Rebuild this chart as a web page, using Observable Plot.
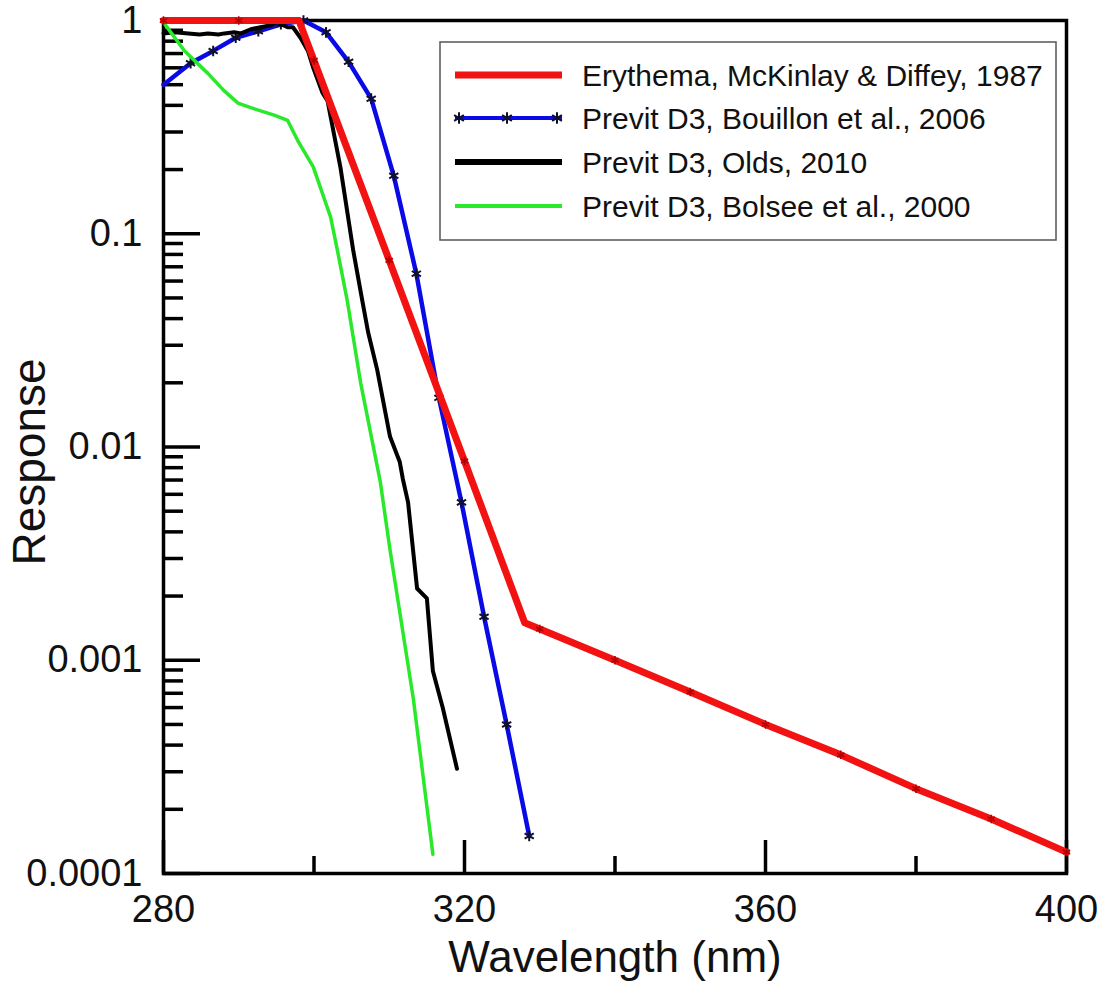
<!DOCTYPE html>
<html><head><meta charset="utf-8">
<script src="https://cdn.jsdelivr.net/npm/d3@7"></script>
<script src="https://cdn.jsdelivr.net/npm/@observablehq/plot@0.6"></script>
<style>body{margin:0;background:#fff}#chart svg{display:block}</style>
</head><body><div id="chart"></div>
<script>
// Series names
const seriesNames = [
  "Erythema, McKinlay & Diffey, 1987",
  "Previt D3, Bouillon et al., 2006",
  "Previt D3, Olds, 2010",
  "Previt D3, Bolsee et al., 2000"
];
// Erythema (red)
const erythemaWl  = [280, 290, 298, 300, 310, 320, 328, 330, 340, 350, 360, 370, 380, 390, 400];
const erythemaVal = [1, 1, 1, 0.65, 0.075, 0.0086, 0.0015, 0.0014, 0.001, 0.00071, 0.0005, 0.00036, 0.00025, 0.00018, 0.000126];
const erythemaMarkWl = [280, 290, 300, 310, 320, 330, 340, 350, 360, 370, 380, 390, 400];
// Bouillon (blue, with markers)
const bouillonWl  = [280, 283.6, 286.6, 289.6, 292.6, 295.6, 298.6, 301.6, 304.6, 307.6, 310.6, 313.6, 316.6, 319.6, 322.6, 325.6, 328.6];
const bouillonVal = [0.50, 0.63, 0.72, 0.83, 0.89, 0.96, 1.0, 0.88, 0.64, 0.43, 0.187, 0.065, 0.017, 0.0055, 0.0016, 0.0005, 0.00015];
// Olds (black)
const oldsWl  = [280, 281.5, 283.3, 284.8, 285.9, 287.3, 288.1, 289.4, 290.3, 291.6, 292.9, 294.3, 295.2, 295.6, 296.5, 297.2, 298.2, 299.2, 299.9, 301.1, 301.8, 303.5, 305.2, 306.4, 307.2, 308.4, 310.1, 311.4, 311.8, 312.5, 313.7, 315.0, 315.8, 317.1, 319.0];
const oldsVal = [0.87, 0.88, 0.87, 0.86, 0.87, 0.86, 0.87, 0.88, 0.87, 0.91, 0.93, 0.95, 0.99, 0.96, 0.93, 0.93, 0.83, 0.72, 0.60, 0.46, 0.42, 0.206, 0.084, 0.049, 0.0344, 0.023, 0.0112, 0.0085, 0.0071, 0.0055, 0.00217, 0.00195, 0.00089, 0.0006, 0.00031];
// Bolsee (green)
const bolseeWl  = [280, 282.8, 285.9, 288.0, 289.9, 291.6, 294.7, 296.5, 297.8, 299.9, 302.2, 303.1, 304.4, 306.2, 308.8, 310.1, 313.2, 315.8];
const bolseeVal = [0.98, 0.72, 0.565, 0.47, 0.41, 0.39, 0.36, 0.34, 0.275, 0.206, 0.12, 0.084, 0.049, 0.020, 0.0069, 0.0033, 0.00066, 0.000123];
// Ticks
const xTickLabels = [280, 320, 360, 400];
const xMinorTicks = [300, 340, 380];
const yTickLabels = [1, 0.1, 0.01, 0.001, 0.0001];
const yMinorMult = [2, 3, 4, 5, 6, 7, 8, 9];
const colors = ["#f21212", "#0a0ae6", "#000000", "#2ae82a"];

const toRows = (wl, v) => wl.map((w, i) => ({wl: w, v: v[i]}));
const erythema = toRows(erythemaWl, erythemaVal);
const erythemaMarks = erythema.filter(d => erythemaMarkWl.includes(d.wl));
const bouillon = toRows(bouillonWl, bouillonVal);
const olds = toRows(oldsWl, oldsVal);
const bolsee = toRows(bolseeWl, bolseeVal);
const yMinor = [];
[0.0001, 0.001, 0.01, 0.1].forEach(dec => yMinorMult.forEach(m => yMinor.push(+(dec * m).toPrecision(3))));

const W = 1103, H = 983, mL = 163, mR = 37, mT = 20, mB = 110;
const pW = W - mL - mR, pH = H - mT - mB;
const font = "'Liberation Sans', Arial, sans-serif";

const chart = Plot.plot({
  width: W, height: H,
  marginLeft: mL, marginRight: mR, marginTop: mT, marginBottom: mB,
  style: {fontFamily: font, color: "#111", background: "#fff"},
  x: {domain: [280, 400]},
  y: {type: "log", domain: [0.0001, 1]},
  marks: [
    Plot.axisX(xTickLabels, {tickSize: 0, tickPadding: 22, fontSize: 38, label: null}),
    Plot.axisY(yTickLabels, {tickSize: 0, tickPadding: 21, fontSize: 38, label: null, tickFormat: d => String(d)}),
    Plot.ruleY(yTickLabels, {insetRight: pW - 37, stroke: "#000", strokeWidth: 3.5}),
    Plot.ruleY(yMinor, {insetRight: pW - 20, stroke: "#000", strokeWidth: 3.5}),
    Plot.ruleX(xTickLabels, {insetTop: pH - 33, stroke: "#000", strokeWidth: 3.5}),
    Plot.ruleX(xMinorTicks, {insetTop: pH - 17, stroke: "#000", strokeWidth: 3.5}),
    Plot.frame({stroke: "#000", strokeWidth: 3.5}),
    Plot.line(bouillon, {x: "wl", y: "v", stroke: colors[1], strokeWidth: 4.5}),
    Plot.dot(bouillon.slice(1), {x: "wl", y: "v", symbol: "asterisk", r: 5, stroke: "#10102a", strokeWidth: 2}),
    Plot.line(olds, {x: "wl", y: "v", stroke: colors[2], strokeWidth: 4}),
    Plot.line(bolsee, {x: "wl", y: "v", stroke: colors[3], strokeWidth: 3.5}),
    Plot.line(erythema, {x: "wl", y: "v", stroke: colors[0], strokeWidth: 7}),
    Plot.dot(erythemaMarks, {x: "wl", y: "v", symbol: "asterisk", r: 4, stroke: "#b00000", strokeWidth: 1.5}),
    Plot.text(["Response"], {frameAnchor: "left", dx: -133, dy: 15, rotate: -90, textAnchor: "middle", lineAnchor: "middle", fontSize: 46, fill: "#111"}),
    Plot.text(["Wavelength (nm)"], {frameAnchor: "bottom", dy: 84, textAnchor: "middle", lineAnchor: "middle", fontSize: 44, fill: "#111"})
  ]
});
document.getElementById("chart").appendChild(chart);

// Legend
const svg = d3.select(chart);
const lg = svg.append("g").attr("font-family", font).attr("text-anchor", "start");
lg.append("rect").attr("x", 440).attr("y", 42).attr("width", 616).attr("height", 198)
  .attr("fill", "#fff").attr("stroke", "#555").attr("stroke-width", 1.5);
const rowY = [75, 118, 162, 206];
const lineW = [7, 4, 6, 4];
seriesNames.forEach((name, i) => {
  lg.append("line").attr("x1", 455).attr("x2", 562).attr("y1", rowY[i]).attr("y2", rowY[i])
    .attr("stroke", colors[i]).attr("stroke-width", lineW[i]);
  lg.append("text").attr("x", 582).attr("y", rowY[i]).attr("dy", "0.36em")
    .attr("text-anchor", "start").attr("font-size", 30).attr("fill", "#111").text(name);
});
[459, 507, 557].forEach(x => {
  lg.append("path").attr("transform", `translate(${x},${rowY[1]})`)
    .attr("d", d3.symbol(d3.symbolAsterisk, 90)()).attr("stroke", "#10102a").attr("stroke-width", 2).attr("fill", "none");
});
</script>
</body></html>
